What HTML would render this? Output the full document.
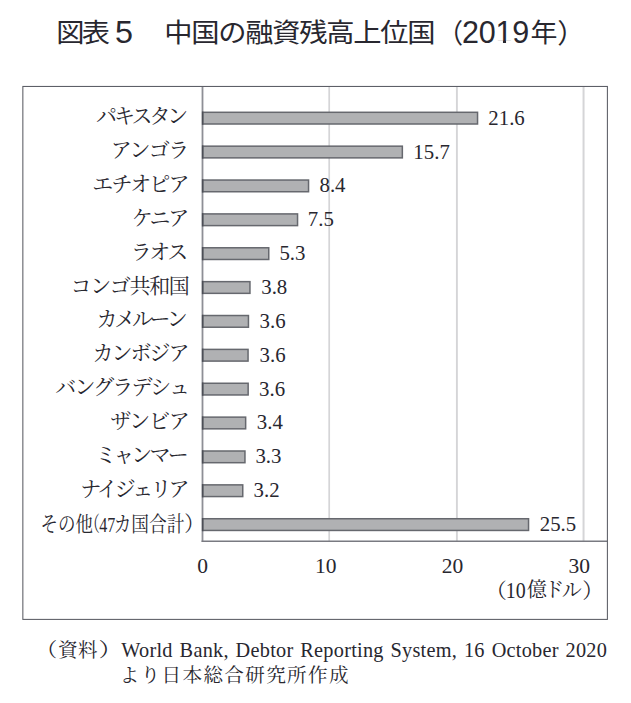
<!DOCTYPE html>
<html lang="ja"><head><meta charset="utf-8"><title>図表５ 中国の融資残高上位国（2019年）</title>
<style>html,body{margin:0;padding:0;background:#fff}svg{display:block}text{fill:#28272f;white-space:pre}.s{font-family:'Liberation Serif','Noto Serif CJK JP','Noto Serif CJK SC',serif}.g{font-family:'Liberation Sans','Noto Sans CJK JP',sans-serif}</style></head><body>
<svg width="631" height="703" viewBox="0 0 631 703">
<rect width="631" height="703" fill="#fff"/>
<defs><clipPath id="nofoot"><path clip-rule="evenodd" d="M440 0H600V60H440Z M496.5 40.4H502.95V44H496.5Z M506.05 40.4H512.5V44H506.05Z"/></clipPath></defs>
<g id="title">
<g transform="translate(0 42.30) scale(1 0.9150) translate(0 -42.30)"><text class="g" x="56.20" y="42.30" font-size="28.3" letter-spacing="-2.700">図表</text></g>
<text class="g" transform="translate(114.97 43.00) scale(1.0621 1)" font-size="30.5">5</text>
<g transform="translate(0 42.30) scale(1 0.9150) translate(0 -42.30)"><text class="g" x="164.25" y="42.30" font-size="28.3" letter-spacing="-1.283">中国の融資残高上位国</text></g>
<text class="g" transform="translate(437.25 42.60) scale(0.9571 1)" font-size="27">（</text>
<g clip-path="url(#nofoot)"><text class="g" x="462.00" y="43.00" font-size="30.5" letter-spacing="-0.233">2019</text></g>
<g transform="translate(0 42.30) scale(1 0.9150) translate(0 -42.30)"><text class="g" transform="translate(530.51 42.30) scale(0.9515 1)" font-size="28.3">年</text></g>
<text class="g" transform="translate(557.31 42.60) scale(1.0286 1)" font-size="27">）</text>
</g>
<g id="grid">
<line x1="329.20" y1="86.3" x2="329.20" y2="541.20" stroke="#d5d5d7" stroke-width="1.7"/>
<line x1="456.90" y1="86.3" x2="456.90" y2="541.20" stroke="#d5d5d7" stroke-width="1.9"/>
<line x1="583.55" y1="86.3" x2="583.55" y2="541.20" stroke="#d5d5d7" stroke-width="2"/>
</g><g id="axes">
<line x1="202.5" y1="86.4" x2="202.5" y2="542.00" stroke="#8e8f96" stroke-width="1.8"/>
<line x1="201.6" y1="541.20" x2="607.4" y2="541.20" stroke="#797a81" stroke-width="1.6"/>
<rect x="22.85" y="86.45" width="584.55" height="532.95" fill="none" stroke="#5a5c64" stroke-width="1.05"/>
</g><g id="bars">
<rect x="202.70" y="112.30" width="274.85" height="11.70" fill="#b0b1b3" stroke="#66686e" stroke-width="1.5"/>
<line x1="202.65" y1="111.55" x2="202.65" y2="124.75" stroke="#4c4e56" stroke-width="1.5"/>
<rect x="202.70" y="146.17" width="199.65" height="11.70" fill="#b0b1b3" stroke="#66686e" stroke-width="1.5"/>
<line x1="202.65" y1="145.42" x2="202.65" y2="158.62" stroke="#4c4e56" stroke-width="1.5"/>
<rect x="202.70" y="180.04" width="105.85" height="11.70" fill="#b0b1b3" stroke="#66686e" stroke-width="1.5"/>
<line x1="202.65" y1="179.29" x2="202.65" y2="192.49" stroke="#4c4e56" stroke-width="1.5"/>
<rect x="202.70" y="213.91" width="94.85" height="11.70" fill="#b0b1b3" stroke="#66686e" stroke-width="1.5"/>
<line x1="202.65" y1="213.16" x2="202.65" y2="226.36" stroke="#4c4e56" stroke-width="1.5"/>
<rect x="202.70" y="247.78" width="66.05" height="11.70" fill="#b0b1b3" stroke="#66686e" stroke-width="1.5"/>
<line x1="202.65" y1="247.03" x2="202.65" y2="260.23" stroke="#4c4e56" stroke-width="1.5"/>
<rect x="202.70" y="281.65" width="47.25" height="11.70" fill="#b0b1b3" stroke="#66686e" stroke-width="1.5"/>
<line x1="202.65" y1="280.90" x2="202.65" y2="294.10" stroke="#4c4e56" stroke-width="1.5"/>
<rect x="202.70" y="315.52" width="45.75" height="11.70" fill="#b0b1b3" stroke="#66686e" stroke-width="1.5"/>
<line x1="202.65" y1="314.77" x2="202.65" y2="327.97" stroke="#4c4e56" stroke-width="1.5"/>
<rect x="202.70" y="349.39" width="45.35" height="11.70" fill="#b0b1b3" stroke="#66686e" stroke-width="1.5"/>
<line x1="202.65" y1="348.64" x2="202.65" y2="361.84" stroke="#4c4e56" stroke-width="1.5"/>
<rect x="202.70" y="383.26" width="45.45" height="11.70" fill="#b0b1b3" stroke="#66686e" stroke-width="1.5"/>
<line x1="202.65" y1="382.51" x2="202.65" y2="395.71" stroke="#4c4e56" stroke-width="1.5"/>
<rect x="202.70" y="417.13" width="42.95" height="11.70" fill="#b0b1b3" stroke="#66686e" stroke-width="1.5"/>
<line x1="202.65" y1="416.38" x2="202.65" y2="429.58" stroke="#4c4e56" stroke-width="1.5"/>
<rect x="202.70" y="451.00" width="42.25" height="11.70" fill="#b0b1b3" stroke="#66686e" stroke-width="1.5"/>
<line x1="202.65" y1="450.25" x2="202.65" y2="463.45" stroke="#4c4e56" stroke-width="1.5"/>
<rect x="202.70" y="484.87" width="40.05" height="11.70" fill="#b0b1b3" stroke="#66686e" stroke-width="1.5"/>
<line x1="202.65" y1="484.12" x2="202.65" y2="497.32" stroke="#4c4e56" stroke-width="1.5"/>
<rect x="202.70" y="518.74" width="325.85" height="11.70" fill="#b0b1b3" stroke="#66686e" stroke-width="1.5"/>
<line x1="202.65" y1="517.99" x2="202.65" y2="531.19" stroke="#4c4e56" stroke-width="1.5"/>
</g><g id="labels">
<text class="s" x="96.10" y="123.25" font-size="21" letter-spacing="-3.075">パキスタン</text>
<text class="s" transform="translate(488.33 124.65) scale(0.9700 1)" font-size="21.5">21.6</text>
<text class="s" x="110.80" y="157.12" font-size="21" letter-spacing="-1.567">アンゴラ</text>
<text class="s" transform="translate(413.36 158.52) scale(0.9700 1)" font-size="21.5">15.7</text>
<text class="s" x="92.25" y="190.99" font-size="21" letter-spacing="-1.837">エチオピア</text>
<text class="s" transform="translate(319.47 192.39) scale(0.9700 1)" font-size="21.5">8.4</text>
<text class="s" x="131.65" y="224.86" font-size="21" letter-spacing="-2.250">ケニア</text>
<text class="s" transform="translate(307.85 226.26) scale(0.9700 1)" font-size="21.5">7.5</text>
<text class="s" x="130.85" y="258.73" font-size="21" letter-spacing="-2.650">ラオス</text>
<text class="s" transform="translate(279.39 260.13) scale(0.9700 1)" font-size="21.5">5.3</text>
<text class="s" x="70.50" y="292.60" font-size="21" letter-spacing="-1.330">コンゴ共和国</text>
<text class="s" transform="translate(261.23 294.00) scale(0.9700 1)" font-size="21.5">3.8</text>
<text class="s" x="96.60" y="326.47" font-size="21" letter-spacing="-3.325">カメルーン</text>
<text class="s" transform="translate(259.53 327.87) scale(0.9700 1)" font-size="21.5">3.6</text>
<text class="s" x="92.60" y="360.34" font-size="21" letter-spacing="-2.050">カンボジア</text>
<text class="s" transform="translate(259.53 361.74) scale(0.9700 1)" font-size="21.5">3.6</text>
<text class="s" x="55.30" y="394.21" font-size="21" letter-spacing="-1.858">バングラデシュ</text>
<text class="s" transform="translate(259.03 395.61) scale(0.9700 1)" font-size="21.5">3.6</text>
<text class="s" x="110.15" y="428.08" font-size="21" letter-spacing="-1.350">ザンビア</text>
<text class="s" transform="translate(256.83 429.48) scale(0.9700 1)" font-size="21.5">3.4</text>
<text class="s" x="95.45" y="461.95" font-size="21" letter-spacing="-2.825">ミャンマー</text>
<text class="s" transform="translate(255.43 463.35) scale(0.9700 1)" font-size="21.5">3.3</text>
<text class="s" x="80.15" y="495.82" font-size="21" letter-spacing="-2.960">ナイジェリア</text>
<text class="s" transform="translate(253.53 497.22) scale(0.9700 1)" font-size="21.5">3.2</text>
<text class="s" transform="translate(40.42 530.99) scale(0.8335 1)" font-size="21">その他</text>
<text class="s" transform="translate(85.33 530.99) scale(0.6957 1)" font-size="21">（</text>
<text class="s" transform="translate(99.23 531.59) scale(0.7463 1)" font-size="21.5">47</text>
<text class="s" transform="translate(113.69 530.99) scale(0.8421 1)" font-size="21">カ国合計</text>
<text class="s" transform="translate(184.17 530.99) scale(0.9565 1)" font-size="21">）</text>
<text class="s" transform="translate(539.73 531.09) scale(0.9700 1)" font-size="21.5">25.5</text>
</g><g id="ticks">
<text class="s" x="197.15" y="572.60" font-size="21.5">0</text>
<text class="s" x="315.00" y="572.70" font-size="21.5">10</text>
<text class="s" x="441.80" y="572.60" font-size="21.5">20</text>
<text class="s" x="568.60" y="572.60" font-size="21.5">30</text>
<text class="s" transform="translate(484.95 597.60) scale(1.0435 1)" font-size="21">（</text>
<text class="s" transform="translate(505.73 597.80) scale(0.8861 1)" font-size="22.5">10</text>
<text class="s" x="526.75" y="597.40" font-size="20" letter-spacing="-2.525">億ドル</text>
<text class="s" transform="translate(582.19 597.60) scale(1.0087 1)" font-size="21">）</text>
</g>
<g id="note">
<text class="s" transform="translate(35.46 657.30) scale(1.1091 1)" font-size="19.6">（</text>
<text class="s" x="58.10" y="657.30" font-size="19.6" letter-spacing="0.350">資料</text>
<text class="s" transform="translate(98.58 657.30) scale(1.2182 1)" font-size="19.6">）</text>
<text class="s" x="121.30" y="656.80" font-size="20.3" word-spacing="1.557" letter-spacing="0.25">World Bank, Debtor Reporting System, 16 October 2020</text>
<text class="s" x="119.65" y="682.00" font-size="19.6" letter-spacing="1.340">より日本総合研究所作成</text>
</g>
</svg></body></html>
